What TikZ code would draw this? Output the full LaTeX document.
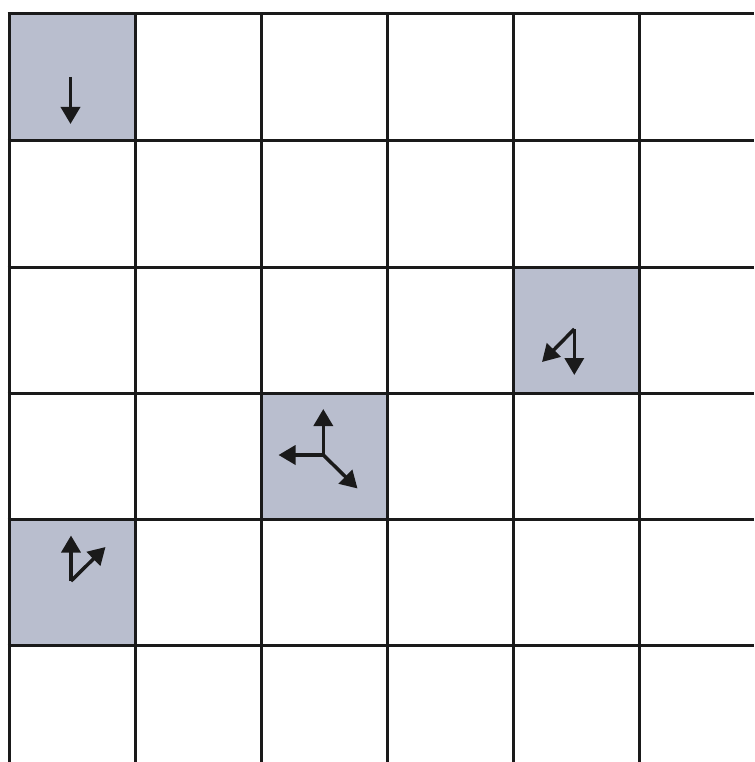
\documentclass[tikz,border=0pt]{standalone}
\usetikzlibrary{arrows.meta}
\definecolor{cellshade}{RGB}{185,190,206}
\definecolor{gridline}{RGB}{26,26,26}
\tikzset{
  gridrule/.style={draw=gridline, line width=3pt},
  shaded/.style={fill=cellshade},
  vec/.style={draw=gridline, line width=3.5pt, -{Triangle[length=17pt,width=19pt]}, color=gridline},
}
\begin{document}
\begin{tikzpicture}[x=1pt,y=-1pt]
\useasboundingbox (0,0) rectangle (754,762);
% shaded cells
\fill[shaded] (9,14) rectangle (135,141);
\fill[shaded] (513,267) rectangle (639,393);
\fill[shaded] (261,393) rectangle (387,519);
\fill[shaded] (9,519) rectangle (135,645);
% grid
\foreach \yy in {14,141,267,393,519,645} \draw[gridrule] (7.5,\yy) -- (754,\yy);
\foreach \xx in {9,135,261,387,513,639} \draw[gridrule] (\xx,12.5) -- (\xx,762);
% arrows
\coordinate (a1) at (70.5,77);
\coordinate (a1t) at (70.5,124);
\draw[vec] (a1) -- (a1t);
\coordinate (b0) at (574.3,329);
\coordinate (b1) at (574.3,375);
\coordinate (b2) at (542,362);
\draw[vec] (b0) -- (b1);
\draw[vec] (b0) -- (b2);
\coordinate (c0) at (323.3,455);
\coordinate (c1) at (323.3,409);
\coordinate (c2) at (278.5,455);
\coordinate (c3) at (357.5,488.5);
\draw[vec] (c0) -- (c1);
\draw[vec] (c0) -- (c2);
\draw[vec] (c0) -- (c3);
\coordinate (d0) at (71,581);
\coordinate (d1) at (71,535.5);
\coordinate (d2) at (105.5,547);
\draw[vec] (d0) -- (d1);
\draw[vec] (d0) -- (d2);
\end{tikzpicture}
\end{document}
